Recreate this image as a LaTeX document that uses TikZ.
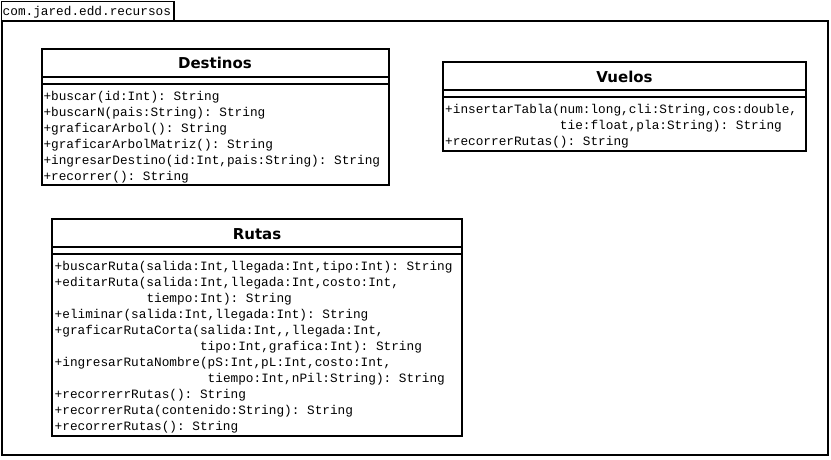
\documentclass[tikz,border=0pt]{standalone}
\usepackage{fontspec}
\setmonofont{Liberation Mono}
\newfontfamily\titlefont{DejaVu Sans}
\begin{document}
\begin{tikzpicture}[x=1pt,y=-1pt,
  frame/.style={line width=2pt},
  tab/.style={line width=1.3pt},
  box/.style={line width=2pt},
  mtext/.style={anchor=base west, inner sep=0pt, font=\fontsize{12.75}{14}\selectfont\ttfamily},
  ctitle/.style={anchor=base, inner sep=0pt, font=\fontsize{15}{17}\selectfont\titlefont\bfseries}]
\useasboundingbox (0,0) rectangle (831,459);
\fill[white] (0,0) rectangle (831,459);
% package
\draw[tab] (1.5,21) |- (174,1.5) -- (174,21);
\draw[frame] (2,21) rectangle (828,455);
\node[mtext] (pkg) at (2.5,15.5) {com.jared.edd.recursos};
% Destinos
\draw[box] (41.5,49) rectangle (388.5,184.5);
\draw[box] (41.5,77) -- (388.5,77);
\draw[box] (41.5,84) -- (388.5,84);
\node[ctitle] (dtitle) at (215,68.5) {Destinos};
\node[mtext] (d1) at (43.3,100.7) {+buscar(id:Int): String};
\node[mtext] (d2) at (43.3,116.5) {+buscarN(pais:String): String};
\node[mtext] (d3) at (43.3,132.5) {+graficarArbol(): String};
\node[mtext] (d4) at (43.3,148.5) {+graficarArbolMatriz(): String};
\node[mtext] (d5) at (43.3,164.5) {+ingresarDestino(id:Int,pais:String): String};
\node[mtext] (d6) at (43.3,180.5) {+recorrer(): String};
% Vuelos
\draw[box] (443,62) rectangle (806,150.5);
\draw[box] (443,89.5) -- (806,89.5);
\draw[box] (443,96.5) -- (806,96.5);
\node[ctitle] (vtitle) at (624.5,82.5) {Vuelos};
\node[mtext] (v1) at (445,113.3) {+insertarTabla(num:long,cli:String,cos:double,};
\node[mtext] (v1b) at (445,129.5) {\phantom{+insertarTabla(}tie:float,pla:String): String};
\node[mtext] (v2) at (445,145.5) {+recorrerRutas(): String};
% Rutas
\draw[box] (52,219) rectangle (462,435.5);
\draw[box] (52,246.5) -- (462,246.5);
\draw[box] (52,253.5) -- (462,253.5);
\node[ctitle] (rtitle) at (257,239.5) {Rutas};
\node[mtext] (r1) at (54.5,270) {+buscarRuta(salida:Int,llegada:Int,tipo:Int): String};
\node[mtext] (r2) at (54.5,286) {+editarRuta(salida:Int,llegada:Int,costo:Int,};
\node[mtext] (r2b) at (54.5,302) {\phantom{+editarRuta(}tiempo:Int): String};
\node[mtext] (r3) at (54.5,318) {+eliminar(salida:Int,llegada:Int): String};
\node[mtext] (r4) at (54.5,334) {+graficarRutaCorta(salida:Int,,llegada:Int,};
\node[mtext] (r4b) at (54.5,350) {\phantom{+graficarRutaCorta(}tipo:Int,grafica:Int): String};
\node[mtext] (r5) at (54.5,366) {+ingresarRutaNombre(pS:Int,pL:Int,costo:Int,};
\node[mtext] (r5b) at (54.5,382) {\phantom{+ingresarRutaNombre(}tiempo:Int,nPil:String): String};
\node[mtext] (r6) at (54.5,398) {+recorrerrRutas(): String};
\node[mtext] (r7) at (54.5,414) {+recorrerRuta(contenido:String): String};
\node[mtext] (r8) at (54.5,430) {+recorrerRutas(): String};
\end{tikzpicture}
\end{document}
